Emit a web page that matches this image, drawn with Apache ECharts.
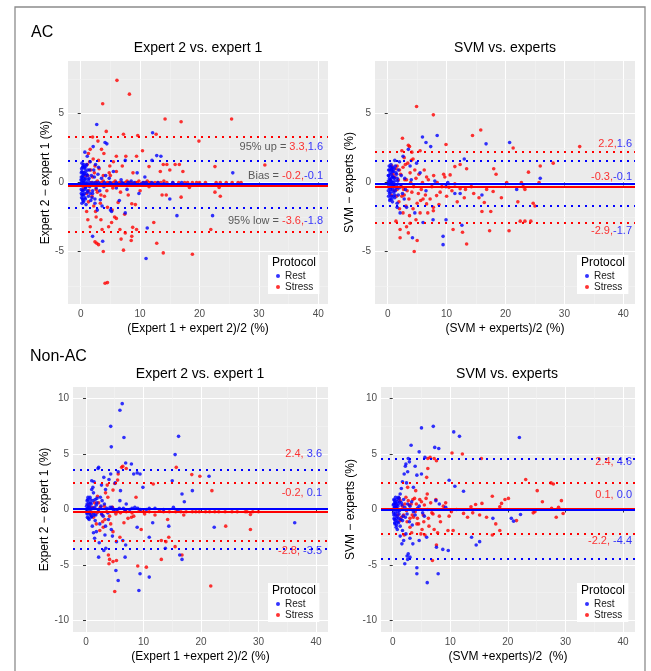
<!DOCTYPE html>
<html>
<head>
<meta charset="utf-8">
<script src="https://cdn.jsdelivr.net/npm/echarts@6/dist/echarts.min.js"></script>
<style>
  html, body { margin: 0; padding: 0; background: #fff; }
</style>
</head>
<body>
<div id="chart" style="width: 651px;height: 671px"></div>
<script>
// tick labels
const xTicks = [0, 10, 20, 30, 40];
const yTicksAC = [-5, 0, 5];
const yTicksNAC = [-10, -5, 0, 5, 10];
const protocols = ['Rest', 'Stress'];

// limits of agreement: [95% up, bias, 95% low]
const acExpStressLim = [3.3, -0.2, -3.6];
const acExpRestLim = [1.6, -0.1, -1.8];
const acSvmStressLim = [2.2, -0.3, -2.9];
const acSvmRestLim = [1.6, -0.1, -1.7];
const nacExpStressLim = [2.4, -0.2, -2.8];
const nacExpRestLim = [3.6, 0.1, -3.5];
const nacSvmStressLim = [2.4, 0.1, -2.2];
const nacSvmRestLim = [4.6, 0.0, -4.4];

// AC, expert 2 vs expert 1 : [mean, difference]
const acExpRest = [[0.1,0.0],[0.1,0.4],[0.1,-0.5],[0.2,0.8],[0.2,-0.9],[0.2,0.2],[0.3,-0.2],[0.3,1.1],[0.3,-1.2],[0.4,0.5],[0.4,-0.6],[0.5,1.3],[0.5,-1.4],[0.5,0.1],[0.6,0.7],[0.6,-0.8],[0.7,1.0],[0.7,-1.1],[0.8,0.3],[0.8,-0.4],[0.9,1.2],[0.9,-1.6],[1.0,0.6],[1.1,-0.7],[1.2,0.9],[1.3,-1.0],[1.4,0.3],[1.5,-0.3],[1.6,1.5],[1.7,-1.3],[1.8,0.5],[2.0,-0.6],[2.1,2.6],[2.2,0.9],[2.4,-1.2],[2.5,1.3],[2.7,4.2],[2.8,-2.0],[3.0,1.1],[3.2,-0.6],[3.5,0.3],[3.6,-1.7],[3.7,-4.25],[2.0,-3.9],[4.1,2.9],[4.4,2.8],[4.2,0.5],[4.6,-0.2],[5.0,-2.0],[5.5,0.8],[6.0,-0.4],[6.5,-1.3],[7.5,1.6],[7.8,-0.5],[8.5,0.1],[9.5,0.7],[9.8,-0.8],[10.8,0.4],[11.2,-3.3],[11.0,-5.5],[12.0,1.6],[12.1,3.6],[12.8,1.95],[13.5,1.9],[15.0,-1.2],[16.2,-2.4],[22.2,-2.4],[25.6,0.7],[0.5,0],[1.0,0],[1.5,0],[2.0,0],[2.5,0],[3.0,0],[4.0,0],[5.0,0],[6.0,0],[7.0,0],[8.0,0],[9.0,0],[10.5,0],[12.0,0],[17.0,0],[0.7,2.2],[1.1,1.9],[3.3,-1.25],[2.4,-1.5],[2.0,-0.8],[7.5,-2.2],[5.2,-2.1],
  [0.05,0.2],[0.05,-0.2],[0.1,0.7],[0.1,-0.8],[0.15,1.0],[0.15,-1.1],[0.2,1.4],[0.2,-1.5],[0.25,0.4],[0.25,-0.6],[0.3,0.0],[0.35,0.7],[0.35,-0.9],[0.4,1.2],[0.4,-1.3],[0.45,0.3],[0.5,-0.9],[0.55,0.6],[0.6,-0.1],[0.65,1.1],[0.7,-0.5],[0.75,0.2],[0.8,-1.2],[0.85,0.8],[0.9,-0.3],[1.0,1.3],[1.0,-0.1],[1.1,0.5],[1.2,-0.6],[1.3,0.2],[1.5,0.9],[1.6,-0.8],[1.9,-1.1],[2.3,0.4],[2.6,-0.4],[2.9,0.6],[3.3,-0.2],[3.9,-0.3],[4.8,0.3],[5.8,-0.2],[6.8,0.2],[7.2,-0.1],[8.8,-0.2],[11.0,0.0],[13.0,0.0],[14.0,-0.1],[15.5,0.0]];
const acExpStress = [[6.1,7.4],[8.2,6.4],[3.7,5.7],[14.2,4.6],[16.9,4.4],[25.4,4.6],[4.3,3.7],[7.2,3.5],[9.6,3.4],[12.7,3.5],[19.9,3.0],[2.0,3.3],[10.4,2.3],[1.3,2.1],[3.9,2.1],[7.6,1.9],[9.4,1.9],[6.0,1.9],[3.0,1.6],[13.9,1.3],[14.5,1.3],[15.9,1.3],[16.6,1.3],[11.5,1.15],[22.6,1.15],[31.0,1.27],[13.4,0.8],[15.0,0.9],[17.2,0.8],[4.8,0.7],[2.4,1.2],[1.5,1.5],[2.5,0],[3.5,0],[4.5,0],[5.5,0],[6.5,0],[7.5,0],[8.5,0],[9.5,0],[10.5,0],[11.5,0],[12.5,0],[13.5,0],[14.5,0],[15.5,0],[18.0,0],[18.8,0],[19.5,0],[22.8,0],[23.5,0],[25.5,0],[26.5,0],[18.3,-0.36],[23.3,-0.36],[23.5,-1.0],[13.7,-0.9],[14.4,-0.9],[16.9,-1.06],[6.3,-1.44],[8.6,-1.54],[9.2,-1.6],[3.3,-1.5],[2.2,-1.7],[2.5,-2.1],[1.0,-2.1],[1.2,-2.7],[1.6,-3.2],[3.4,-2.7],[3.6,-3.4],[5.3,-2.0],[5.7,-2.5],[7.4,-2.3],[12.3,-2.9],[8.75,-3.25],[9.4,-3.4],[7.5,-3.65],[6.6,-3.4],[8.6,-3.9],[6.8,-4.1],[8.5,-4.2],[12.8,-4.4],[7.2,-4.9],[2.4,-4.3],[2.7,-4.4],[3.0,-4.5],[3.8,-5.0],[13.9,-5.1],[18.8,-5.2],[4.1,-7.3],[4.5,-7.25],[21.9,-3.4],[22.6,-0.7],[0.5,-0.4],[0.8,0.5],[1.0,-0.8],[2.0,0.4],[2.8,-0.7],[4.0,-1.0],[5.0,0.5],
  [1.8,0],[2.2,-0.1],[2.8,0.1],[3.2,-0.1],[3.8,0.1],[4.2,-0.1],[4.8,0],[5.2,-0.1],[5.8,0.1],[6.2,-0.1],[6.8,0],[7.2,-0.1],[7.8,0.1],[8.2,0],[8.8,-0.1],[9.2,0],[9.8,0.1],[10.2,-0.1],[10.8,0],[11.2,0.1],[11.8,0],[12.2,-0.1],[13.0,0],[14.0,0.1],[16.5,0],[17.5,0],[20.0,0],[21.0,0],[24.5,0],[27.0,0],[1.2,0.5],[1.4,-0.6],[1.7,0.9],[1.9,-1.0],[2.3,0.7],[2.6,-0.5],[3.1,1.0],[3.4,-0.9],[3.8,0.5],[4.4,-0.6],[4.9,1.2],[5.4,-0.4],[6.0,0.8],[6.7,-0.7],[7.0,1.2],[8.0,-0.9],[8.8,0.7],[10.0,-0.6],[11.5,-0.3],[1.1,1.3],[1.3,-1.4],[2.1,1.7],[2.6,-2.5],[3.5,2.4],[4.5,-1.8],[5.5,1.5],[6.0,-2.6],[1.6,2.4],[2.9,3.0],[4.7,-3.2],[5.2,-2.9]];

// AC, SVM vs experts
const acSvmRest = [[0.1,0.1],[0.2,-0.3],[0.2,0.5],[0.3,-0.8],[0.3,0.9],[0.4,0.2],[0.4,-1.2],[0.5,1.1],[0.5,-0.5],[0.6,0.6],[0.6,-1.0],[0.7,0.0],[0.7,1.0],[0.8,-1.4],[0.8,0.4],[0.9,-0.2],[1.0,0.8],[1.0,-0.7],[1.1,0.3],[1.2,-1.1],[1.3,1.2],[1.4,-0.4],[1.5,0.6],[1.6,-1.5],[1.7,0.1],[1.8,-0.9],[2.0,1.5],[2.2,-0.3],[5.9,3.3],[8.4,3.4],[7.3,2.6],[6.5,2.9],[16.7,2.8],[20.7,2.9],[1.2,1.6],[2.6,1.9],[13.0,1.7],[25.9,0.3],[4.9,1.4],[5.5,0.7],[3.8,1.2],[9.9,-0.3],[11.4,-0.8],[12.3,-0.8],[16.0,-0.9],[21.9,-0.5],[1.6,-1.8],[2.1,-2.2],[3.2,-1.8],[4.6,-2.2],[9.9,-2.7],[9.4,-3.9],[9.4,-4.5],[4.2,-4.0],[12.6,-3.1],[7.7,-2.7],[6.0,-2.9],[3.0,-0.5],[4.0,0.2],[6.5,-0.6],[8.0,0.1],[10.2,0.0],[3.5,2.4],[2.8,-1.2],
  [0.1,0.5],[0.1,-0.6],[0.15,0.9],[0.15,-1.0],[0.2,0.0],[0.25,1.2],[0.25,-0.4],[0.3,0.3],[0.35,-1.3],[0.4,0.7],[0.45,-0.7],[0.5,0.2],[0.55,1.3],[0.6,-0.3],[0.65,0.9],[0.7,-1.2],[0.75,0.4],[0.8,-0.5],[0.85,1.1],[0.9,0.0],[0.95,-1.0],[1.0,0.4],[1.05,-0.3],[1.1,1.0],[1.2,0.1],[1.3,-0.6],[1.4,0.7],[1.5,-0.2],[1.6,0.3],[1.8,0.9],[1.9,-0.4],[2.3,0.5],[2.5,-0.8],[2.9,0.3],[0.6,0.1],[0.4,-0.1],[0.8,0.8],[1.2,-0.9]];
const acSvmStress = [[4.9,5.5],[7.75,4.9],[15.8,3.8],[14.4,3.4],[2.5,3.2],[3.5,2.7],[3.7,2.6],[9.9,2.75],[21.3,2.5],[32.6,2.6],[2.4,2.3],[4.1,2.2],[5.5,2.3],[28.1,1.4],[25.9,1.2],[23.9,0.75],[18.0,1.0],[18.4,0.6],[11.4,1.15],[12.3,1.3],[13.4,1.0],[10.6,0.55],[9.7,0.4],[20.2,0],[22.7,0],[25.7,0],[23.0,-0.3],[23.3,-0.5],[14.6,-0.8],[15.5,-1.1],[16.8,-0.5],[19.3,-1.1],[17.9,-0.65],[16.4,-1.45],[17.5,-2.1],[16.0,-2.1],[22.1,-1.4],[24.7,-1.5],[25.0,-1.7],[22.5,-2.8],[23.3,-2.8],[24.3,-2.8],[20.6,-3.5],[17.3,-3.5],[11.1,-3.4],[12.7,-3.6],[13.4,-4.45],[8.3,-0.95],[8.7,-1.6],[7.75,-1.8],[6.6,-1.55],[7.75,-2.05],[5.5,-2.2],[4.8,-2.7],[3.8,-2.95],[3.2,-3.2],[2.1,-3.4],[2.1,-4.0],[3.5,-3.65],[5.0,-4.2],[4.5,-5.0],[1.4,-2.8],[0.7,1.2],[1.2,0.4],[1.6,-0.5],[2.4,-1.0],[3.2,0.2],[3.8,0.7],[4.6,0.9],[4.4,-0.3],[5.9,0.0],[6.6,0.4],[7.5,-0.3],[8.4,0.0],[9.2,-0.3],[10.4,-0.35],[11.4,-0.1],[12.3,-0.45],[13.2,-0.5],[14.2,-0.3],[2.0,0.9],[2.7,-0.5],[3.0,1.3],[5.2,-0.8],[6.0,-1.2],[1.0,-0.3],[0.6,-0.9],
  [0.9,0.6],[1.1,-0.6],[1.4,1.0],[1.5,-1.0],[1.8,0.2],[1.9,-1.4],[2.2,0.6],[2.3,-0.3],[2.6,1.1],[2.8,-0.9],[2.9,0.2],[3.3,-0.6],[3.4,1.4],[3.6,-1.2],[3.9,0.0],[4.1,-0.7],[4.3,1.7],[4.8,0.3],[5.0,-1.5],[5.3,0.6],[5.7,-0.5],[6.2,0.9],[6.4,-0.9],[6.9,0.2],[7.2,-1.2],[7.8,0.5],[8.9,-0.7],[9.5,0.6],[10.0,-1.0],[10.9,-0.6],[11.8,-1.4],[13.0,-1.1],[2.0,-1.9],[2.6,-2.2],[3.1,-1.7],[3.7,-2.4],[4.3,-1.9],[5.6,-1.3],[6.8,-2.2],[2.8,1.8],[4.0,1.6],[1.6,1.2]];

// Non-AC, expert 2 vs expert 1
const nacExpRest = [[6.3,9.55],[5.9,8.95],[4.3,7.5],[6.6,6.5],[4.4,5.65],[16.1,6.6],[15.5,4.95],[6.9,4.2],[7.9,4.1],[8.9,3.3],[2.1,3.7],[2.2,3.8],[4.3,3.2],[5.6,3.4],[8.3,3.2],[9.4,3.2],[15.0,2.6],[9.9,2.0],[16.7,1.4],[18.5,1.7],[21.4,3.0],[1.0,2.6],[1.2,2.0],[1.3,1.5],[0.7,1.1],[1.6,0.9],[1.9,1.0],[2.5,1.1],[3.1,2.9],[3.4,1.8],[5.1,2.4],[6.0,1.7],[5.9,0.8],[7.0,0.5],[8.5,0.2],[17.1,0.7],[36.3,-1.2],[22.3,-1.6],[14.4,-1.5],[11.6,-1.2],[8.9,-1.6],[4.4,-1.8],[1.3,-2.1],[2.3,-3.0],[3.1,-3.7],[2.2,-4.3],[5.3,-2.9],[6.9,-3.2],[6.8,-4.3],[6.4,-2.8],[11.0,-2.5],[13.8,-3.5],[16.7,-4.5],[16.3,-4.1],[5.2,-5.5],[5.6,-6.4],[11.0,-6.1],[9.4,-5.8],[9.2,-7.3],[3.45,-3.5],[3.4,-1.5],[0.1,0.0],[0.2,0.5],[0.2,-0.4],[0.3,0.9],[0.4,-0.8],[0.5,0.2],[0.6,-0.3],[0.8,0.6],[0.9,-0.7],[1.1,0.1],[1.4,-0.5],[1.8,0.4],[2.1,-0.2],[2.6,0.3],[3.0,-0.6],[3.6,0.1],[4.2,0.2],[4.8,-0.1],[5.4,0.0],[6.5,0.1],[7.6,0.0],[9.0,0.1],[10.5,0.0],[12.0,0.1],[13.5,0.0],[15.2,0.2],[16.0,-0.1],[1.6,-1.0],[2.4,-1.3],[3.9,-0.9],[2.8,0.8],
  [0.1,0.3],[0.15,-0.3],[0.2,0.8],[0.25,-0.7],[0.3,0.1],[0.35,1.1],[0.4,-0.2],[0.5,0.6],[0.55,-0.9],[0.6,0.3],[0.7,-0.5],[0.75,0.9],[0.85,-0.2],[0.9,0.5],[1.0,-0.6],[1.2,0.8],[1.3,-0.3],[1.5,0.2],[1.7,-0.5],[1.9,0.6],[2.2,0.0],[2.7,-0.4],[3.2,0.5],[3.8,-0.3],[4.5,0.2],[5.0,-0.2],[5.8,0.1],[6.8,-0.1],[8.0,0.1],[9.5,0.0],[11.0,0.1],[1.0,1.8],[1.1,-1.5],[1.4,2.5],[1.5,-2.6],[1.8,-2.0],[2.7,2.2],[3.3,-2.3],[4.0,2.7],[4.6,-2.4]];
const nacExpStress = [[6.2,3.8],[6.4,3.9],[15.7,3.8],[18.4,3.15],[19.8,3.0],[21.9,1.7],[5.6,3.2],[5.5,2.65],[5.0,2.35],[3.7,2.2],[8.7,1.1],[11.7,2.3],[7.0,3.7],[4.7,1.75],[3.8,1.1],[1.5,0.6],[2.5,0.2],[5.5,-0.2],[7.0,-0.2],[9.3,-0.1],[11.0,-0.2],[12.8,-0.1],[15.6,-0.2],[17.4,-0.2],[19.7,-0.2],[20.8,-0.2],[23.1,-0.2],[25.4,-0.2],[27.7,-0.2],[30.0,-0.2],[28.6,-0.45],[28.6,-1.8],[24.3,-1.5],[17.0,-0.5],[19.1,-0.2],[13.1,-2.8],[14.4,-2.5],[13.9,-2.9],[15.5,-3.35],[16.7,-4.1],[13.1,-4.5],[9.0,-5.1],[10.5,-5.2],[3.9,-4.1],[4.1,-4.5],[4.0,-4.9],[4.7,-4.7],[5.3,-4.6],[5.0,-7.4],[21.7,-6.9],[1.3,-0.7],[1.8,-1.3],[2.4,-1.9],[3.0,-1.6],[4.7,-2.0],[5.9,-2.5],[7.3,-0.8],[7.9,-0.7],[0.7,-0.2],[1.0,0.2],[3.3,-0.9],[6.6,-1.2],[8.3,-0.6],[10.2,-0.4],[12.0,-0.5],[14.2,-0.9],[9.6,-1.8],
  [0.4,0.4],[0.9,-0.4],[1.4,0.1],[1.9,-0.3],[2.2,0.6],[2.8,-0.5],[3.2,0.3],[3.6,-0.2],[4.1,-0.6],[4.6,0.2],[5.2,-0.4],[6.0,-0.3],[6.8,0.0],[8.0,-0.3],[10.0,-0.2],[13.5,-0.2],[14.5,-0.2],[16.5,-0.2],[18.5,-0.2],[21.5,-0.2],[22.4,-0.2],[24.2,-0.2],[26.3,-0.2],[28.0,-0.2],[29.0,-0.2],[2.0,1.2],[2.9,-1.1],[3.4,1.5],[4.3,-1.3]];

// Non-AC, SVM vs experts
const nacSvmRest = [[7.05,7.5],[5.0,7.36],[10.6,7.0],[11.6,6.6],[22.0,6.5],[3.2,5.8],[7.3,5.6],[8.0,5.5],[4.6,5.2],[5.6,4.7],[2.7,4.6],[2.9,4.3],[2.3,4.1],[2.2,3.9],[2.6,3.4],[2.0,3.2],[1.7,2.5],[3.9,3.9],[4.2,3.1],[5.0,3.2],[9.8,2.64],[10.8,2.1],[12.3,1.65],[1.3,1.4],[1.0,1.1],[0.6,0.2],[7.5,0.8],[8.1,0.5],[9.2,0.2],[20.6,-0.8],[21.0,-1.05],[22.2,-0.45],[17.4,-0.8],[13.7,-2.5],[14.5,-3.2],[15.1,-2.9],[9.65,-3.7],[8.7,-3.6],[7.6,-3.4],[5.9,-2.5],[4.6,-2.8],[3.5,-3.1],[1.6,-3.1],[2.5,-4.2],[2.6,-4.5],[2.7,-4.0],[3.0,-4.3],[2.1,-4.9],[4.2,-5.25],[4.2,-5.8],[7.9,-5.8],[6.0,-6.6],[0.1,0.0],[0.2,0.5],[0.2,-0.5],[0.3,0.8],[0.3,-0.9],[0.4,0.2],[0.4,-1.3],[0.5,0.6],[0.5,-0.3],[0.6,-1.6],[0.7,0.9],[0.7,-0.8],[0.8,-1.8],[0.9,0.3],[1.0,-1.2],[1.1,-0.4],[1.2,0.7],[1.4,-0.9],[1.6,0.4],[1.8,-0.6],[2.1,0.2],[2.5,-0.4],[3.0,0.3],[3.6,-0.2],[4.3,0.1],[5.2,-0.3],[6.1,0.0],[1.3,-2.4],[1.7,-1.9],[2.3,-2.2],[3.4,-1.4],
  [0.1,0.4],[0.15,-0.3],[0.2,0.9],[0.25,-0.8],[0.3,0.2],[0.35,-1.2],[0.4,0.6],[0.45,-0.5],[0.5,1.1],[0.55,-1.0],[0.6,0.4],[0.65,-1.4],[0.7,0.1],[0.75,-0.6],[0.8,0.7],[0.85,-1.1],[0.9,-0.2],[1.0,0.5],[1.05,-0.8],[1.1,1.0],[1.2,-0.1],[1.3,-1.5],[1.5,0.6],[1.7,-1.0],[1.9,0.9],[2.2,-0.7],[2.6,0.5],[2.9,-1.1],[3.3,0.7],[3.9,-0.5],[4.6,0.3],[5.5,-0.6],[1.5,1.9],[2.4,2.4],[3.6,2.0],[1.9,-2.8],[3.0,-2.6]];
const nacSvmStress = [[10.3,5.1],[12.1,5.0],[15.4,4.6],[6.1,4.6],[6.5,4.7],[7.2,4.6],[7.6,4.4],[6.1,3.7],[5.9,2.9],[23.1,2.7],[27.5,2.4],[27.9,2.3],[25.1,1.7],[26.0,0.7],[29.3,0.8],[17.3,1.2],[19.5,0.9],[20.1,1.0],[14.4,0.45],[15.5,0.55],[13.6,0.25],[18.6,0.25],[18.9,0.55],[29.6,-0.36],[28.4,-0.7],[27.6,0.1],[28.8,0.2],[24.4,-0.3],[24.7,-0.2],[21.5,-1.0],[17.9,-1.3],[18.6,-1.9],[17.3,-2.3],[16.3,-0.7],[15.1,-0.5],[13.9,-0.3],[13.0,-0.7],[7.6,-3.2],[6.9,-4.6],[4.2,-1.3],[3.0,-1.6],[3.6,-0.7],[11.1,0.0],[12.3,-0.35],[10.5,-1.9],[9.6,-1.9],[1.3,0.8],[2.1,0.5],[2.7,0.8],[3.2,0.5],[3.8,1.0],[4.7,0.9],[1.5,-0.7],[2.5,-1.1],[3.4,-0.5],[4.3,-0.8],[5.4,-1.1],[6.3,-1.5],[7.2,-1.8],[8.1,-0.6],[5.5,0.4],[6.8,-0.3],[8.8,0.3],[9.8,-0.6],[2.0,-2.3],[4.9,-2.2],[5.6,-2.3],
  [0.6,0.4],[0.9,-0.5],[1.1,1.0],[1.3,-1.0],[1.7,0.3],[1.9,-0.5],[2.3,1.1],[2.4,-0.1],[2.9,0.4],[3.0,-0.8],[3.5,0.9],[3.9,-0.2],[4.1,0.5],[4.5,-1.3],[5.0,0.7],[5.3,-0.5],[5.8,1.0],[6.2,-0.8],[6.6,0.6],[7.0,-0.4],[7.5,0.9],[8.3,-1.1],[9.2,0.6],[10.2,-0.2],[2.6,2.0],[3.3,-2.1],[4.0,1.7],[5.1,-1.8],[6.0,1.4],[7.8,-2.1]];

const RED = '#ff0000';
const BLUE = '#0000ff';
const FONT = '"Liberation Sans", Arial, sans-serif';

// layout of the four panels
const panels = [
    { grid: { left: 68, top: 61, width: 260, height: 243 }, x: [-2.14, 41.63], y: [-8.8, 8.8], yTicks: yTicksAC,
      title: 'Expert 2 vs. expert 1', tx: 198, ty: 48, xName: '(Expert 1 + expert 2)/2 (%)', yName: 'Expert 2 \u2212 expert 1 (%)', yGap: 16,
      rest: acExpRest, stress: acExpStress, restLim: acExpRestLim, stressLim: acExpStressLim,
      sep: ',', prefix: ['95% up = ', 'Bias = ', '95% low = '], annY: [2.6, 0.5, -2.8], annDist: 5, leg: [268, 255] },
    { grid: { left: 375, top: 61, width: 260, height: 243 }, x: [-2.16, 41.99], y: [-8.8, 8.8], yTicks: yTicksAC,
      title: 'SVM vs. experts', tx: 505, ty: 48, xName: '(SVM + experts)/2 (%)', yName: 'SVM \u2212 experts (%)', yGap: 19,
      rest: acSvmRest, stress: acSvmStress, restLim: acSvmRestLim, stressLim: acSvmStressLim,
      sep: ',', prefix: ['', '', ''], annY: [2.8, 0.43, -3.5], annDist: 3, leg: [577, 255] },
    { grid: { left: 73, top: 387, width: 255, height: 245 }, x: [-2.26, 42.09], y: [-11.05, 11.05], yTicks: yTicksNAC,
      title: 'Expert 2 vs. expert 1', tx: 200, ty: 374, xName: '(Expert 1 +expert 2)/2 (%)', yName: 'Expert 2 \u2212 expert 1 (%)', yGap: 20,
      rest: nacExpRest, stress: nacExpStress, restLim: nacExpRestLim, stressLim: nacExpStressLim,
      sep: ', ', prefix: ['', '', ''], annY: [5.0, 1.53, -3.74], annDist: 6, leg: [268, 583] },
    { grid: { left: 381, top: 387, width: 254, height: 245 }, x: [-2.03, 42.08], y: [-11.05, 11.05], yTicks: yTicksNAC,
      title: 'SVM vs. experts', tx: 507, ty: 374, xName: '(SVM +experts)/2  (%)', yName: 'SVM \u2212 experts (%)', yGap: 24,
      rest: nacSvmRest, stress: nacSvmStress, restLim: nacSvmRestLim, stressLim: nacSvmStressLim,
      sep: ', ', prefix: ['', '', ''], annY: [4.3, 1.29, -2.83], annDist: 3, leg: [577, 583] }
];

function limitLines(lim, color) {
    const dotted = { color: color, width: 2, type: [2, 5] };
    return {
        silent: true, symbol: 'none', label: { show: false },
        data: [
            { yAxis: lim[0], lineStyle: dotted },
            { yAxis: lim[1], lineStyle: { color: color, width: 2.2, type: 'solid' } },
            { yAxis: lim[2], lineStyle: dotted }
        ]
    };
}

const grids = [], xAxes = [], yAxes = [], series = [], legends = [], graphics = [];

panels.forEach((p, i) => {
    grids.push(Object.assign({ show: true, backgroundColor: '#ebebeb', borderWidth: 0 }, p.grid));
    xAxes.push({
        type: 'value', gridIndex: i, min: p.x[0], max: p.x[1], minInterval: 10, maxInterval: 10,
        axisLine: { show: false },
        axisTick: { show: true, length: 3, lineStyle: { color: '#333' }, customValues: xTicks },
        axisLabel: { customValues: xTicks, color: '#4d4d4d', fontSize: 10, margin: 5, fontFamily: FONT },
        splitLine: { show: true, lineStyle: { color: '#ffffff', width: 1 } },
        name: p.xName, nameLocation: 'middle', nameGap: 19,
        nameTextStyle: { fontSize: 12, color: '#000', fontFamily: FONT }
    });
    yAxes.push({
        type: 'value', gridIndex: i, min: p.y[0], max: p.y[1], minInterval: 5, maxInterval: 5,
        axisLine: { show: false },
        axisTick: { show: true, length: 3, lineStyle: { color: '#333' }, customValues: p.yTicks },
        axisLabel: { customValues: p.yTicks, color: '#4d4d4d', fontSize: 10, margin: 4, fontFamily: FONT },
        splitLine: { show: true, lineStyle: { color: '#ffffff', width: 1 } },
        name: p.yName, nameLocation: 'middle', nameGap: p.yGap,
        nameTextStyle: { fontSize: 12, color: '#000', fontFamily: FONT }
    });

    // minor grid lines, like ggplot, kept under the points
    const yMinor = p.yTicks.slice(1).map(v => v - 2.5).concat([p.yTicks[0] - 2.5, p.yTicks[p.yTicks.length - 1] + 2.5])
        .filter(v => v > p.y[0] && v < p.y[1]);
    series.push({
        type: 'scatter', xAxisIndex: i, yAxisIndex: i, data: [], silent: true, z: 1,
        markLine: {
            z: 1, silent: true, symbol: 'none', label: { show: false }, animation: false,
            lineStyle: { color: '#f4f4f4', width: 0.6, type: 'solid' },
            data: [5, 15, 25, 35].map(v => ({ xAxis: v })).concat(yMinor.map(v => ({ yAxis: v })))
        }
    });

    series.push({
        name: 'Stress', type: 'scatter', xAxisIndex: i, yAxisIndex: i, data: p.stress,
        symbolSize: 3.6, itemStyle: { color: RED }, markLine: limitLines(p.stressLim, RED)
    });
    series.push({
        name: 'Rest', type: 'scatter', xAxisIndex: i, yAxisIndex: i, data: p.rest,
        symbolSize: 3.6, itemStyle: { color: BLUE }, markLine: limitLines(p.restLim, BLUE)
    });

    // text of the limits, right aligned in the panel
    const texts = [0, 1, 2].map(k =>
        (p.prefix[k] ? '{k|' + p.prefix[k] + '}' : '') +
        '{r|' + p.stressLim[k].toFixed(1) + p.sep + '}{b|' + p.restLim[k].toFixed(1) + '}');
    series.push({
        type: 'scatter', xAxisIndex: i, yAxisIndex: i, silent: true, clip: false, z: 6,
        symbolSize: 0, data: p.annY.map(v => [p.x[1], v]),
        label: {
            show: true, position: 'left', distance: p.annDist,
            formatter: (d) => texts[d.dataIndex],
            rich: {
                k: { color: '#333', fontSize: 11, fontFamily: FONT },
                r: { color: RED, fontSize: 11, fontFamily: FONT },
                b: { color: BLUE, fontSize: 11, fontFamily: FONT }
            }
        }
    });

    legends.push({
        data: protocols, orient: 'vertical', left: p.leg[0], top: p.leg[1],
        padding: [16, 6, 2, 8], itemGap: 1, itemWidth: 4, itemHeight: 4, icon: 'circle',
        selectedMode: false, backgroundColor: '#ffffff',
        textStyle: { fontSize: 10, color: '#1a1a1a', fontFamily: FONT }
    });

    graphics.push({
        type: 'text', x: p.tx, y: p.ty, z: 10,
        style: { text: p.title, fontSize: 14, fill: '#000', fontFamily: FONT, textAlign: 'center', textVerticalAlign: 'middle' }
    });
    graphics.push({
        type: 'text', x: p.leg[0] + 4, y: p.leg[1] + 8, z: 10,
        style: { text: 'Protocol', fontSize: 12, fill: '#000', fontFamily: FONT, textAlign: 'left', textVerticalAlign: 'middle' }
    });
});

graphics.push({ type: 'rect', z: 0, shape: { x: 15, y: 7, width: 630, height: 700 },
    style: { fill: 'none', stroke: '#8c8c8c', lineWidth: 1.3 } });
graphics.push({ type: 'text', x: 31, y: 33, z: 10,
    style: { text: 'AC', fontSize: 16, fill: '#000', fontFamily: FONT, textVerticalAlign: 'middle' } });
graphics.push({ type: 'text', x: 30, y: 357, z: 10,
    style: { text: 'Non-AC', fontSize: 16, fill: '#000', fontFamily: FONT, textVerticalAlign: 'middle' } });

const option = {
    animation: false,
    backgroundColor: '#ffffff',
    textStyle: { fontFamily: FONT },
    grid: grids,
    xAxis: xAxes,
    yAxis: yAxes,
    legend: legends,
    series: series,
    graphic: graphics
};

const chart = echarts.init(document.getElementById('chart'));
chart.setOption(option);
</script>
</body>
</html>
